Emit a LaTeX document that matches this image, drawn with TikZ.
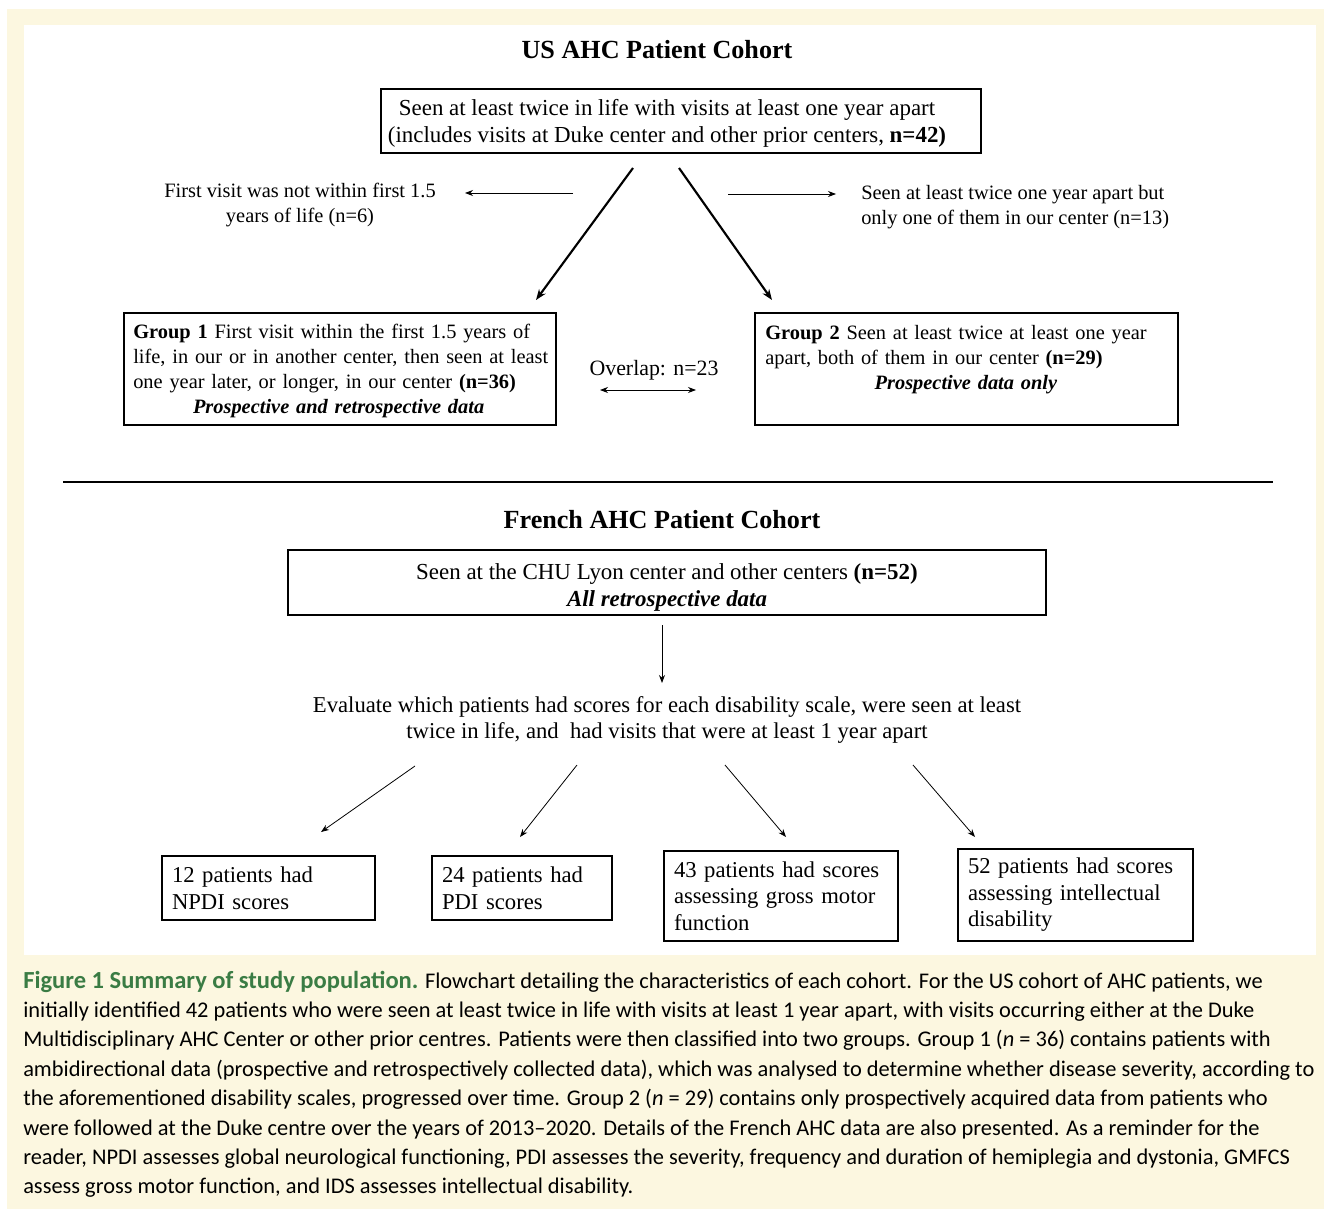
\documentclass[tikz,border=0pt]{standalone}
\usepackage{fontspec}
\setmainfont{Liberation Serif}
\newfontfamily\capfont{Carlito}
\usetikzlibrary{arrows.meta}
\definecolor{cream}{RGB}{252,247,224}
\definecolor{capgreen}{RGB}{58,124,68}
\newcommand{\fbig}{\fontsize{17.2}{20.25}\selectfont}
\newcommand{\fmid}{\fontsize{15.3}{18.75}\selectfont}
\newcommand{\fbot}{\fontsize{17}{19.9}\selectfont}
\newcommand{\ftitle}{\fontsize{19.6}{23}\selectfont\bfseries}
\newcommand{\fcap}{\capfont\fontsize{16.8}{20}\selectfont}
\begin{document}
\begin{tikzpicture}[x=0.75pt,y=-0.75pt,
  box/.style={draw, line width=1.1pt, inner sep=0pt},
  thinarr/.style={-{Stealth[length=6pt,width=4.5pt]}, line width=0.6pt},
  thickarr/.style={-{Stealth[length=8pt,width=6pt]}, line width=1.6pt},
  capline/.style={anchor=base west, inner sep=0pt, font=\fcap}]
\useasboundingbox (0,0) rectangle (1324,1209);
\fill[cream] (7,9) rectangle (1324,1209);
\fill[white] (24,25) rectangle (1316,955);

% ---------- US cohort ----------
\node[font=\ftitle] (ust) at (657,50) {US AHC Patient Cohort};
\node[box, minimum width=450pt, minimum height=48pt] (top) at (681,121) {};
\node[align=center, font=\fbig, inner sep=0pt] (topt) at (667,123)
  {Seen at least twice in life with visits at least one year apart\\
   (includes visits at Duke center and other prior centers, \textbf{n=42)}};

\node[align=center, font=\fmid, inner sep=0pt] (left) at (300,205)
  {First visit was not within first 1.5\\ years of life (n=6)};
\node[align=left, font=\fmid, anchor=west, inner sep=0pt] (right) at (861,207)
  {Seen at least twice one year apart but\\ only one of them in our center (n=13)};

\coordinate (la1) at (573,193); \coordinate (la2) at (465,193);
\coordinate (ra1) at (728,194); \coordinate (ra2) at (836,194);
\draw[thinarr] (la1) -- (la2);
\draw[thinarr] (ra1) -- (ra2);

\coordinate (d1s) at (633,168); \coordinate (d1e) at (536,300);
\coordinate (d2s) at (679,168); \coordinate (d2e) at (772,300);
\draw[thickarr] (d1s) -- (d1e);
\draw[thickarr] (d2s) -- (d2e);

\node[box, minimum width=324pt, minimum height=84pt] (g1) at (340,369) {};
\node[text width=316pt, align=left, font=\fmid, inner sep=0pt, anchor=west] (g1t) at (133,371)
  {\textbf{Group 1} First visit within the first 1.5 years of\\
   life, in our or in another center, then seen at least\\
   one year later, or longer, in our center \textbf{(n=36)}\\
   \makebox[308pt][c]{\textbf{\textit{Prospective and retrospective data}}}};

\node[box, minimum width=317.25pt, minimum height=84pt] (g2) at (966.5,369) {};
\node[text width=305pt, align=left, font=\fmid, inner sep=0pt, anchor=west] (g2t) at (765,360)
  {\textbf{Group 2} Seen at least twice at least one year\\
   apart, both of them in our center \textbf{(n=29)}\\
   \makebox[301pt][c]{\textbf{\textit{Prospective data only}}}};

\node[font=\fontsize{16.4}{19}\selectfont, inner sep=0pt] (ovl) at (654,370) {Overlap: n=23};
\coordinate (ov1) at (600,390); \coordinate (ov2) at (696,390);
\draw[{Stealth[length=6pt,width=4.5pt]}-{Stealth[length=6pt,width=4.5pt]}, line width=0.6pt] (ov1) -- (ov2);

% ---------- separator ----------
\coordinate (r1) at (63,482); \coordinate (r2) at (1273,482);
\draw[line width=2.2pt] (r1) -- (r2);

% ---------- French cohort ----------
\node[font=\ftitle] (frt) at (662,520) {French AHC Patient Cohort};
\node[box, minimum width=568.5pt, minimum height=48.75pt] (fr) at (667,582.5) {};
\node[align=center, font=\fbig, inner sep=0pt] (frtx) at (667,587)
  {Seen at the CHU Lyon center and other centers \textbf{(n=52)}\\
   \textbf{\textit{All retrospective data}}};

\coordinate (fv1) at (662,625); \coordinate (fv2) at (662,683);
\draw[thinarr] (fv1) -- (fv2);

\node[align=center, font=\fontsize{17}{19.5}\selectfont, inner sep=0pt] (eval) at (667,720)
  {Evaluate which patients had scores for each disability scale, were seen at least\\
   twice in life, and\ \ had visits that were at least 1 year apart};

\coordinate (a1s) at (415,766); \coordinate (a1e) at (321,832);
\coordinate (a2s) at (577,765); \coordinate (a2e) at (520,837);
\coordinate (a3s) at (725,765); \coordinate (a3e) at (786,837);
\coordinate (a4s) at (913,765); \coordinate (a4e) at (975,837);
\draw[thinarr] (a1s) -- (a1e);
\draw[thinarr] (a2s) -- (a2e);
\draw[thinarr] (a3s) -- (a3e);
\draw[thinarr] (a4s) -- (a4e);

\node[box, minimum width=159.75pt, minimum height=48pt, inner xsep=7.5pt, text width=144.75pt, align=left, font=\fbot] (b1) at (268.5,888)
  {12 patients had\\ NPDI scores};
\node[box, minimum width=135pt, minimum height=48pt, inner xsep=7.5pt, text width=120pt, align=left, font=\fbot] (b2) at (522,888)
  {24 patients had\\ PDI scores};
\node[box, minimum width=175.5pt, minimum height=67.5pt, inner xsep=7.5pt, text width=160.5pt, align=left, font=\fbot] (b3) at (781,896)
  {43 patients had scores\\ assessing gross motor\\ function};
\node[box, minimum width=176.25pt, minimum height=69pt, inner xsep=7.5pt, text width=161.25pt, align=left, font=\fbot] (b4) at (1075.5,895)
  {52 patients had scores\\ assessing intellectual\\ disability};

% ---------- caption ----------
\node[capline] (c1) at (23,988) {\textcolor{capgreen}{\fontsize{18.4}{20}\selectfont\textbf{Figure 1 Summary of study population.}} Flowchart detailing the characteristics of each cohort. For the US cohort of AHC patients, we};
\node[capline] (c2) at (23,1017.4) {initially identified 42 patients who were seen at least twice in life with visits at least 1 year apart, with visits occurring either at the Duke};
\node[capline] (c3) at (23,1046.8) {Multidisciplinary AHC Center or other prior centres. Patients were then classified into two groups. Group 1 (\textit{n} = 36) contains patients with};
\node[capline] (c4) at (23,1076.2) {ambidirectional data (prospective and retrospectively collected data), which was analysed to determine whether disease severity, according to};
\node[capline] (c5) at (23,1105.6) {the aforementioned disability scales, progressed over time. Group 2 (\textit{n} = 29) contains only prospectively acquired data from patients who};
\node[capline] (c6) at (23,1135) {were followed at the Duke centre over the years of 2013–2020. Details of the French AHC data are also presented. As a reminder for the};
\node[capline] (c7) at (23,1164.4) {reader, NPDI assesses global neurological functioning, PDI assesses the severity, frequency and duration of hemiplegia and dystonia, GMFCS};
\node[capline] (c8) at (23,1193.8) {assess gross motor function, and IDS assesses intellectual disability.};
\end{tikzpicture}
\end{document}
